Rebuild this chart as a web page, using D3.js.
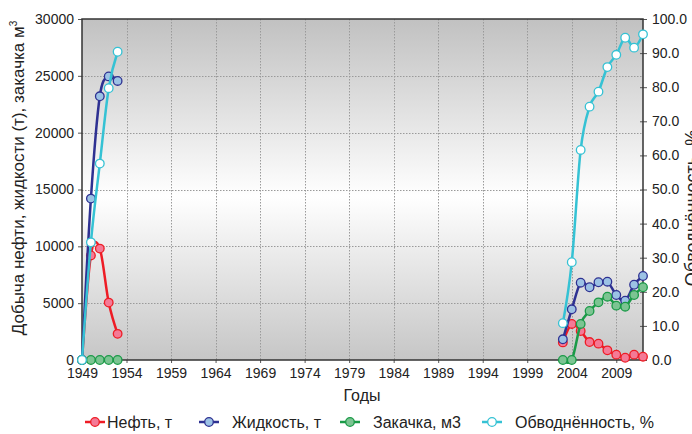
<!DOCTYPE html>
<html><head><meta charset="utf-8">
<script src="https://cdn.jsdelivr.net/npm/d3@7"></script>
<style>
html,body{margin:0;padding:0;background:#fff;}
svg{display:block;font-family:Arial,"Liberation Sans",sans-serif;}
</style></head>
<body>
<svg id="chart" width="692" height="434"></svg>
<script>
// ---- data ----
const years1 = [1949, 1950, 1951, 1952, 1953];
const years2 = [2003, 2004, 2005, 2006, 2007, 2008, 2009, 2010, 2011, 2012];
const oil1 = [0, 9200, 9800, 5050, 2300];
const oil2 = [1550, 3170, 2550, 1580, 1440, 850, 470, 200, 470, 290];
const liquid1 = [0, 14200, 23200, 24950, 24550];
const liquid2 = [1820, 4460, 6800, 6400, 6840, 6890, 5720, 5220, 6620, 7390];
const inject1 = [0, 0, 0, 0, 0];
const inject2 = [0, 0, 3170, 4310, 5070, 5570, 4780, 4690, 5720, 6400];
const watercut1 = [0, 34.5, 57.6, 79.7, 90.4];
const watercut2 = [10.8, 28.7, 61.6, 74.3, 78.7, 85.9, 89.5, 94.5, 91.6, 95.5];
const xTicks = [1949, 1954, 1959, 1964, 1969, 1974, 1979, 1984, 1989, 1994, 1999, 2004, 2009];
const yLeftTicks = [0, 5000, 10000, 15000, 20000, 25000, 30000];
const yRightTicks = [0, 10, 20, 30, 40, 50, 60, 70, 80, 90, 100];
const seriesNames = ["Нефть, т", "Жидкость, т", "Закачка, м3", "Обводнённость, %"];

// ---- styles ----
const colors = ["#ee1c25", "#2e3192", "#1a9a47", "#35c2d4"];
const fills = ["#f47a96", "#9cc2e5", "#7cc492", "#ffffff"];

const svg = d3.select("#chart");
const L = 82, R = 643, T = 19, B = 360;
const x = d3.scaleLinear().domain([1949, 2012]).range([L, R]);
const yL = d3.scaleLinear().domain([0, 30000]).range([B, T]);
const yR = d3.scaleLinear().domain([0, 100]).range([B, T]);

// background gradient
const defs = svg.append("defs");
const grad = defs.append("linearGradient").attr("id", "bg").attr("x1", 0).attr("y1", 0).attr("x2", 0).attr("y2", 1);
grad.append("stop").attr("offset", "0%").attr("stop-color", "#c1c1c1");
grad.append("stop").attr("offset", "52%").attr("stop-color", "#ffffff");
grad.append("stop").attr("offset", "100%").attr("stop-color", "#c6c6c6");
svg.append("rect").attr("x", L).attr("y", T).attr("width", R - L).attr("height", B - T).attr("fill", "url(#bg)");

// gridlines
const grid = svg.append("g").attr("stroke", "#9a9a9a").attr("stroke-width", 1).attr("stroke-dasharray", "1.5,1.5");
xTicks.filter(d => d > 1949).forEach(t => {
  grid.append("line").attr("x1", Math.round(x(t)) + 0.5).attr("x2", Math.round(x(t)) + 0.5).attr("y1", T).attr("y2", B);
});
yLeftTicks.filter(d => d > 0 && d < 30000).forEach(t => {
  grid.append("line").attr("x1", L).attr("x2", R).attr("y1", Math.round(yL(t)) + 0.5).attr("y2", Math.round(yL(t)) + 0.5);
});

// axes
const axL = d3.axisLeft(yL).tickValues(yLeftTicks).tickSize(4).tickPadding(4).tickFormat(d3.format("d"));
const gL = svg.append("g").attr("transform", `translate(${L},0)`).call(axL);
const axR = d3.axisRight(yR).tickValues(yRightTicks).tickSize(4).tickPadding(5).tickFormat(d => d.toFixed(1));
const gR = svg.append("g").attr("transform", `translate(${R},0)`).call(axR);
gR.selectAll(".tick line").attr("x1", -3);
const axB = d3.axisBottom(x).tickValues(xTicks).tickSize(3).tickPadding(5).tickFormat(d3.format("d"));
const gB = svg.append("g").attr("transform", `translate(0,${B})`).call(axB);
[gL, gR, gB].forEach(g => {
  g.select(".domain").remove();
  g.selectAll("text").attr("font-size", 14).attr("fill", "#222").attr("font-family", "Arial, 'Liberation Sans', sans-serif");
  g.selectAll(".tick line").attr("stroke", "#555");
});
// plot frame
svg.append("rect").attr("x", L).attr("y", T).attr("width", R - L).attr("height", B - T)
  .attr("fill", "none").attr("stroke", "#333").attr("stroke-width", 1.5);

// series
const line = (ys, scale) => d3.line().x((d, i) => x(d)).y((d, i) => scale(ys[i])).curve(d3.curveCardinal.tension(0));
const series = [
  [oil1, oil2, yL], [liquid1, liquid2, yL], [inject1, inject2, yL], [watercut1, watercut2, yR]
];
series.forEach((s, k) => {
  const g = svg.append("g");
  [[years1, s[0]], [years2, s[1]]].forEach(([yrs, vals]) => {
    g.append("path").attr("d", line(vals, s[2])(yrs)).attr("fill", "none")
      .attr("stroke", colors[k]).attr("stroke-width", 2.5);
  });
  [[years1, s[0]], [years2, s[1]]].forEach(([yrs, vals]) => {
    g.selectAll(null).data(yrs).enter().append("circle")
      .attr("cx", d => x(d)).attr("cy", (d, i) => s[2](vals[i])).attr("r", 4.3)
      .attr("fill", fills[k]).attr("stroke", colors[k]).attr("stroke-width", 1.3);
  });
});

// titles
svg.append("text").attr("x", 362).attr("y", 401).attr("text-anchor", "middle")
  .attr("font-size", 16).attr("fill", "#222").text("Годы");
const lt = svg.append("text").attr("transform", "translate(24,178) rotate(-90)").attr("text-anchor", "middle")
  .attr("font-size", 17).attr("fill", "#222");
lt.append("tspan").text("Добыча нефти, жидкости (т), закачка м");
lt.append("tspan").attr("font-size", 10).attr("dy", -7).text("3");
svg.append("text").attr("transform", "translate(698,208) rotate(-90)").attr("text-anchor", "middle")
  .attr("font-size", 18).attr("fill", "#222").text("Обводнённость, %");

// legend
const legX = [95, 209, 350, 492];
const legT = [107, 232, 373, 515];
seriesNames.forEach((n, k) => {
  const g = svg.append("g");
  g.append("line").attr("x1", legX[k] - 10).attr("x2", legX[k] + 10).attr("y1", 422).attr("y2", 422)
    .attr("stroke", colors[k]).attr("stroke-width", 2.5);
  g.append("circle").attr("cx", legX[k]).attr("cy", 422).attr("r", 4.3)
    .attr("fill", fills[k]).attr("stroke", colors[k]).attr("stroke-width", 1.3);
  g.append("text").attr("x", legT[k]).attr("y", 428).attr("font-size", 16).attr("fill", "#222").text(n);
});
</script>
</body></html>
